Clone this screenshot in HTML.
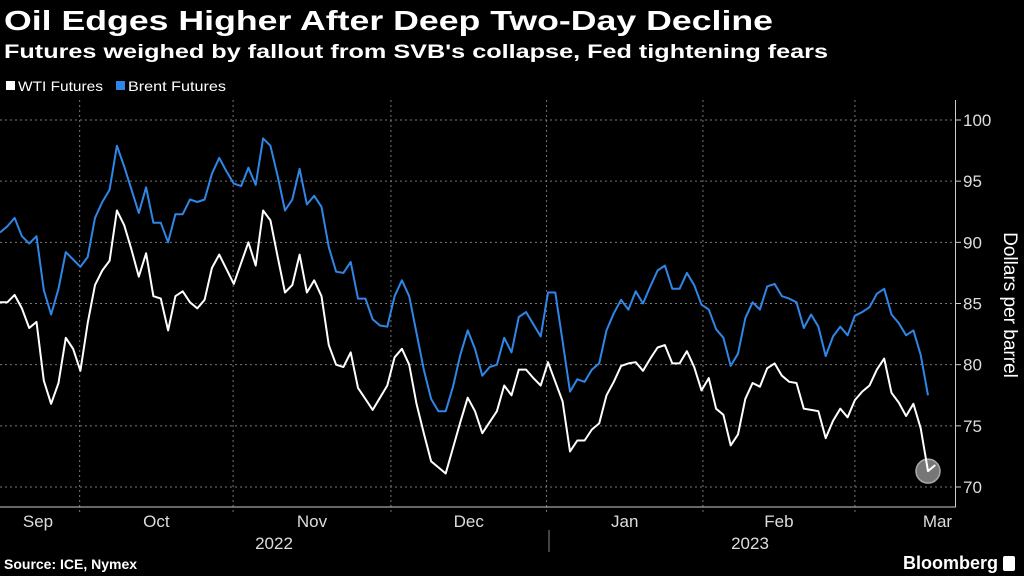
<!DOCTYPE html>
<html><head><meta charset="utf-8"><style>
html,body{margin:0;padding:0;background:#000;width:1024px;height:576px;overflow:hidden}
body{font-family:"Liberation Sans Narrow","Liberation Sans",sans-serif;color:#fff}
svg text{font-family:"Liberation Sans Narrow","Liberation Sans",sans-serif}
</style></head><body>
<svg width="1024" height="576" viewBox="0 0 1024 576" id="chart">
<text x="4" y="30" font-size="28" font-weight="bold" fill="#fff" font-family="Liberation Sans" textLength="769" lengthAdjust="spacingAndGlyphs">Oil Edges Higher After Deep Two-Day Decline</text>
<text x="4" y="58" font-size="19" font-weight="bold" fill="#fff" font-family="Liberation Sans" textLength="824" lengthAdjust="spacingAndGlyphs">Futures weighed by fallout from SVB's collapse, Fed tightening fears</text>
<g>
<rect x="6" y="81" width="9" height="9" fill="#fff"/>
<text x="18" y="91" font-size="14" fill="#fff" textLength="85" lengthAdjust="spacingAndGlyphs">WTI Futures</text>
<rect x="116" y="81" width="9" height="9" fill="#2f86e6"/>
<text x="128" y="91" font-size="14" fill="#fff" textLength="98" lengthAdjust="spacingAndGlyphs">Brent Futures</text>
</g>
<g id="grid"></g>
<g id="series"></g>
<g id="axes"></g>
<text transform="translate(1004,305) rotate(90)" text-anchor="middle" font-size="19" fill="#fff">Dollars per barrel</text>
<text x="4" y="569" font-size="14" font-weight="bold" fill="#fff">Source: ICE, Nymex</text>
<text x="998" y="569" text-anchor="end" font-size="18" font-weight="bold" fill="#fff">Bloomberg</text>
<rect x="1003" y="556" width="12" height="15" rx="2" fill="#fff"/>
</svg>
<script>
const brent=[90.8,91.3,92.0,90.5,89.9,90.5,86.1,84.1,86.2,89.2,88.6,88.0,88.8,92.0,93.3,94.3,97.9,96.2,94.3,92.4,94.5,91.6,91.6,90.0,92.3,92.3,93.5,93.3,93.5,95.6,96.9,95.8,94.8,94.6,96.1,94.7,98.5,97.9,95.4,92.6,93.5,96.0,93.1,93.8,92.9,89.6,87.6,
87.5,88.4,85.4,85.4,83.7,83.2,83.1,85.6,86.9,85.6,82.6,79.6,77.2,76.2,76.2,78.2,80.8,82.8,81.3,79.1,79.8,80.0,82.2,81.0,83.9,84.3,83.3,82.3,85.9,85.9,81.9,77.8,78.8,78.6,79.6,80.1,82.8,84.2,85.3,84.5,86.0,85.0,86.4,87.7,
88.1,86.2,86.2,87.5,86.5,84.9,84.5,82.9,82.2,79.9,80.9,83.8,85.1,84.5,86.4,86.6,85.6,85.4,85.1,83.0,84.1,83.1,80.7,82.3,83.1,82.4,84.0,84.3,84.7,85.8,86.2,84.1,83.4,82.4,82.8,80.8,77.5];
const wti=[85.1,85.1,85.7,84.6,83.0,83.5,78.7,76.8,78.5,82.2,81.3,79.5,83.4,86.5,87.7,88.5,92.6,91.4,89.4,87.2,89.1,85.6,85.4,82.8,85.6,86.0,85.1,84.6,85.3,87.9,89.0,87.8,86.6,88.3,90.0,88.1,92.6,91.8,88.8,85.9,86.5,89.0,85.9,86.9,85.6,81.6,80.0,
79.8,81.0,78.1,77.2,76.3,77.3,78.3,80.6,81.3,80.0,76.8,74.4,72.1,71.6,71.1,73.2,75.3,77.3,76.2,74.4,75.3,76.2,78.3,77.5,79.6,79.6,78.9,78.3,80.2,78.6,77.0,72.9,73.8,73.8,74.7,75.2,77.5,78.6,79.9,80.1,80.2,79.5,80.5,81.4,
81.6,80.1,80.1,81.1,79.8,77.9,78.9,76.4,75.9,73.4,74.3,77.2,78.5,78.2,79.7,80.1,79.1,78.6,78.5,76.4,76.3,76.2,74.0,75.4,76.4,75.7,77.1,77.8,78.3,79.6,80.5,77.7,76.9,75.8,76.8,74.8,71.3,71.8];
const yTicks=[70,75,80,85,90,95,100];
const monthLabels=["Sep","Oct","Nov","Dec","Jan","Feb","Mar"];
const monthStartIdx=[-6,10.9,31.9,53.5,74.8,96.2,117];
const yearLabels=["2022","2023"];
const NS="http://www.w3.org/2000/svg";
const X0=0,STEP=928/127;
const xs=i=>X0+i*STEP;
const ys=v=>487-(v-70)*(367/30);
const grid=document.getElementById('grid'),ser=document.getElementById('series'),ax=document.getElementById('axes');
function mk(tag,attrs,parent){const e=document.createElementNS(NS,tag);for(const k in attrs)e.setAttribute(k,attrs[k]);parent.appendChild(e);return e;}
yTicks.forEach(t=>{
 const y=ys(t);
 const l=mk('line',{x1:0,x2:955,y1:y,y2:y,stroke:'#777','stroke-width':1,'stroke-dasharray':'2,3'},grid);
 
 
 const tk=mk('line',{x1:955,x2:961,y1:y,y2:y,stroke:'#ccc','stroke-width':1},ax);
 
 
 const tx=mk('text',{x:963,y:y+6,'font-size':17,fill:'#ddd'},ax);
 tx.textContent=t;
 
 
});
for(let k=1;k<monthStartIdx.length;k++){
 const x=xs(monthStartIdx[k]);
 const l=mk('line',{x1:x,x2:x,y1:100,y2:512,stroke:'#777','stroke-width':1,'stroke-dasharray':'2,3'},grid);
 
 
}
monthLabels.forEach((m,k)=>{
 const a=xs(monthStartIdx[k]),b=k+1<monthStartIdx.length?xs(monthStartIdx[k+1]):1020;
 const t=mk('text',{x:Math.max(38,(a+b)/2),y:527,'text-anchor':'middle','font-size':17,fill:'#ddd'},ax);
 t.textContent=m;
 
 
});
const base=mk('line',{x1:0,x2:956,y1:507,y2:507,stroke:'#ccc','stroke-width':1},ax);


const vax=mk('line',{x1:955.5,x2:955.5,y1:100,y2:507,stroke:'#ccc','stroke-width':1},ax);


const sep=mk('line',{x1:549,x2:549,y1:530,y2:552,stroke:'#888','stroke-width':1},ax);


[[274,yearLabels[0]],[750,yearLabels[1]]].forEach(([x,s])=>{
 const t=mk('text',{x:x,y:549,'text-anchor':'middle','font-size':17,fill:'#ddd'},ax);
 t.textContent=s;
 
 
});
function line(arr,color,name){
 const d=arr.map((v,i)=>(i?'L':'M')+xs(i).toFixed(1)+','+ys(v).toFixed(1)).join('');
 const p=mk('path',{d:d,fill:'none',stroke:color,'stroke-width':2,'stroke-linejoin':'round'},ser);
 
 
}
const li=wti.length-2;
const c=mk('circle',{cx:xs(li),cy:ys(wti[li]),r:12,fill:'#777',stroke:'#aaa','stroke-width':1.5},ser);


line(brent,'#2f86e6','brent-line');
line(wti,'#ffffff','wti-line');
</script>
</body></html>
